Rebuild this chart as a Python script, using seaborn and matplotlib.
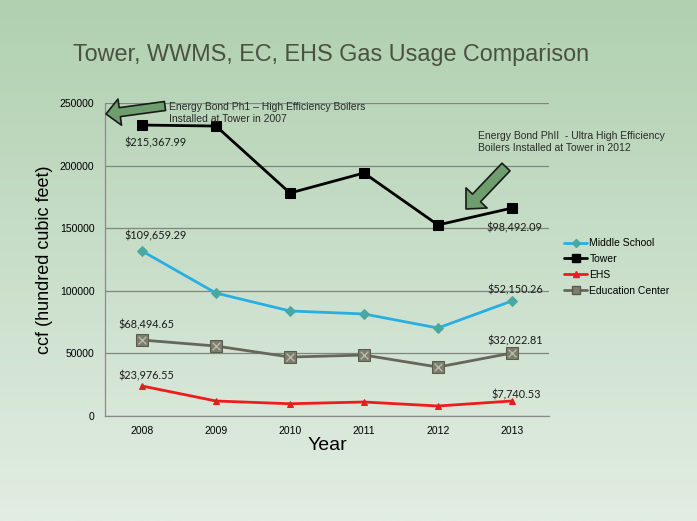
import numpy as np
import pandas as pd
import seaborn as sns
import matplotlib.pyplot as plt
from matplotlib.lines import Line2D

years = ["2008", "2009", "2010", "2011", "2012", "2013"]
tower = [232400, 231600, 178100, 194100, 152600, 166100]
middle_school = [131800, 98200, 83900, 81500, 70300, 91900]
education_center = [60700, 55900, 47100, 48700, 39100, 50300]
ehs = [24000, 12000, 9800, 11200, 8000, 12000]

first_labels = ["$215,367.99", "$109,659.29", "$68,494.65", "$23,976.55"]
last_labels = ["$98,492.09", "$52,150.26", "$32,022.81", "$7,740.53"]

sns.set_style("white")
plt.rcParams["font.family"] = ["Liberation Sans", "DejaVu Sans"]
plt.rcParams["text.color"] = "black"
plt.rcParams["axes.labelcolor"] = "black"
plt.rcParams["xtick.color"] = "black"
plt.rcParams["ytick.color"] = "black"

fig = plt.figure(figsize=(6.97, 5.21), dpi=100)

# gradient background
bg = fig.add_axes([0, 0, 1, 1], zorder=-10)
top = np.array([176, 208, 176]) / 255
bottom = np.array([226, 237, 227]) / 255
t = np.linspace(0, 1, 256)[:, None]
grad = top * (1 - t) + bottom * t
bg.imshow(grad[:, None, :], aspect="auto", extent=[0, 1, 0, 1])
bg.axis("off")

ax = fig.add_axes([0.1506, 0.2015, 0.637, 0.6008])
ax.patch.set_alpha(0)

df = pd.DataFrame({"Year": years, "Tower": tower, "Middle School": middle_school,
                   "Education Center": education_center, "EHS": ehs})

sns.lineplot(data=df, x="Year", y="Middle School", ax=ax, color="#29aee2", lw=2,
             marker="D", markersize=5, markerfacecolor="#4aa8a2", markeredgecolor="#4aa8a2")
sns.lineplot(data=df, x="Year", y="Tower", ax=ax, color="black", lw=2,
             marker="s", markersize=7, markerfacecolor="black", markeredgecolor="black")
sns.lineplot(data=df, x="Year", y="EHS", ax=ax, color="#ee1c1c", lw=2,
             marker="^", markersize=5, markerfacecolor="#e0201e", markeredgecolor="#e0201e")
sns.lineplot(data=df, x="Year", y="Education Center", ax=ax, color="#66675a", lw=2,
             marker="s", markersize=9, markerfacecolor="#7c7d6c", markeredgecolor="#5a5b4e")
sns.scatterplot(data=df, x="Year", y="Education Center", ax=ax, marker="x",
                s=30, color="#b8bba8", linewidth=1, zorder=5)

ax.set_xlim(-0.5, 5.5)
ax.set_ylim(0, 250000)
ax.set_yticks(range(0, 250001, 50000))
ax.yaxis.grid(True, color="#7f867c", lw=0.9)
ax.set_axisbelow(True)
for s in ["top", "right"]:
    ax.spines[s].set_visible(False)
for s in ["left", "bottom"]:
    ax.spines[s].set_color("#8a8a8a")
    ax.spines[s].set_linewidth(0.9)
ax.set_xticks(np.arange(-0.5, 6, 1), minor=True)
ax.tick_params(axis="x", which="major", length=0, labelsize=7.5, pad=7)
ax.tick_params(axis="x", which="minor", length=4, color="#8a8a8a", direction="out")
ax.tick_params(axis="y", length=4, color="#8a8a8a", labelsize=7.5, direction="out")
ax.set_xlabel("Year", fontsize=14, labelpad=1)
ax.set_ylabel("ccf (hundred cubic feet)", fontsize=13, labelpad=5)

# value labels at first and last year
series = [tower, middle_school, education_center, ehs]
first_off = [(14, -18), (14, 15), (4, 15), (4, 10)]
last_off = [(2, -20), (3, 11), (3, 12), (4, 6)]
for vals, lab, off in zip(series, first_labels, first_off):
    ax.annotate(lab, (0, vals[0]), xytext=off, textcoords="offset pixels",
                ha="center", va="center", fontsize=7.8, family="Lato", color="#1a1a1a")
for vals, lab, off in zip(series, last_labels, last_off):
    ax.annotate(lab, (5, vals[-1]), xytext=off, textcoords="offset pixels",
                ha="center", va="center", fontsize=7.8, family="Lato", color="#1a1a1a")

# callouts
H = 521
ax.annotate("", xy=(106, H - 114), xytext=(165, H - 106), xycoords="figure pixels",
            textcoords="figure pixels",
            arrowprops=dict(arrowstyle="simple,head_length=10,head_width=19,tail_width=6.5",
                            mutation_scale=1, fc="#6e9e6e", ec="#1a1a1a", lw=1.2,
                            shrinkA=0, shrinkB=0))
ax.annotate("", xy=(466, H - 209), xytext=(506, H - 167), xycoords="figure pixels",
            textcoords="figure pixels",
            arrowprops=dict(arrowstyle="simple,head_length=11,head_width=21,tail_width=8",
                            mutation_scale=1, fc="#6e9e6e", ec="#1a1a1a", lw=1.2,
                            shrinkA=0, shrinkB=0))
fig.text(169 / 697, 1 - 102 / H, "Energy Bond Ph1 – High Efficiency Boilers\nInstalled at Tower in 2007",
         fontsize=7.5, color="#2a2a2a", va="top", ha="left", linespacing=1.3)
fig.text(478 / 697, 1 - 131 / H, "Energy Bond PhII  - Ultra High Efficiency\nBoilers Installed at Tower in 2012",
         fontsize=7.5, color="#2a2a2a", va="top", ha="left", linespacing=1.3)

fig.text(73 / 697, 1 - 55 / H, "Tower, WWMS, EC, EHS Gas Usage Comparison",
         fontsize=16.8, color="#4b5140", va="center", ha="left")

handles = [
    Line2D([], [], color="#29aee2", lw=2, marker="D", markersize=4,
           markerfacecolor="#4aa8a2", markeredgecolor="#4aa8a2"),
    Line2D([], [], color="black", lw=2, marker="s", markersize=6),
    Line2D([], [], color="#ee1c1c", lw=2, marker="^", markersize=4),
    Line2D([], [], color="#66675a", lw=2, marker="s", markersize=6,
           markerfacecolor="#7c7d6c", markeredgecolor="#5a5b4e"),
]
fig.legend(handles, ["Middle School", "Tower", "EHS", "Education Center"],
           loc="upper left", bbox_to_anchor=(555 / 697, 1 - 229 / H), frameon=False,
           fontsize=7.5, handlelength=2.2, handletextpad=0.2, labelspacing=0.55)

fig.savefig("out.png", dpi=100)
